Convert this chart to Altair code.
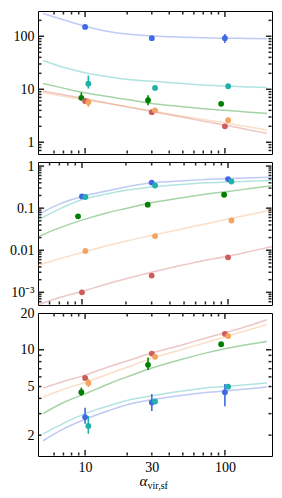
import altair as alt
import pandas as pd

# ---------------- data ----------------
names = ["blue", "green", "red", "teal", "orange"]
colors = ["#4169e1", "#008000", "#cd5c5c", "#20b2aa", "#f4a460"]
dodge = {"blue": 1.0, "teal": 1.055, "green": 0.94, "orange": 1.055, "red": 1.0}

x_grid = [5, 7, 10, 15, 20, 30, 50, 70, 100, 150, 200]
x_pts = [10, 30, 100]

# panel 1 (top)
p1_lines = {
    "blue": [270, 205, 155, 122, 110, 101, 96, 94, 92, 91, 90],
    "teal": [35, 26, 20.5, 17, 15.3, 14.2, 12.8, 12, 11.5, 11, 10.8],
    "green": [12.8, 10.5, 8.6, 7.2, 6.4, 5.4, 4.7, 4.3, 4.0, 3.7, 3.5],
    "orange": [8.6, 7.4, 6.3, 5.3, 4.7, 3.9, 3.1, 2.7, 2.3, 1.94, 1.71],
    "red": [9.3, 7.9, 6.6, 5.4, 4.65, 3.8, 2.95, 2.5, 2.1, 1.7, 1.47],
}
p1_pts = {
    "blue": [150, 92, 92], "teal": [12.7, 10.6, 11.4], "green": [6.9, 6.2, 5.3],
    "orange": [5.7, 4.0, 2.6], "red": [6.0, 3.7, 2.0],
}
p1_lo = {"blue": [138, None, 75], "teal": [10.3, None, None],
         "green": [6.2, 5.0, None], "orange": [4.65, None, None]}
p1_hi = {"blue": [165, None, 111], "teal": [18.2, None, None],
         "green": [8.7, 7.7, None], "orange": [6.7, None, None]}

# panel 2 (middle)
p2_lines = {
    "blue": [0.07, 0.125, 0.19, 0.26, 0.32, 0.40, 0.45, 0.48, 0.51, 0.53, 0.545],
    "teal": [0.053, 0.095, 0.16, 0.22, 0.265, 0.32, 0.37, 0.40, 0.42, 0.44, 0.455],
    "green": [0.021, 0.034, 0.052, 0.078, 0.098, 0.135, 0.18, 0.215, 0.25, 0.30, 0.34],
    "orange": [0.0044, 0.0063, 0.0088, 0.013, 0.0165, 0.0225, 0.033, 0.042, 0.055, 0.074, 0.092],
    "red": [0.0005, 0.00075, 0.00105, 0.0016, 0.0021, 0.003, 0.0045, 0.0058, 0.0072, 0.0098, 0.0122],
}
p2_pts = {
    "blue": [0.19, 0.406, 0.49], "teal": [0.184, 0.345, 0.43], "green": [0.064, 0.121, 0.208],
    "orange": [0.0096, 0.0217, 0.051], "red": [0.001, 0.0025, 0.0068],
}
p2_lo = {}
p2_hi = {}

# panel 3 (bottom)
p3_lines = {
    "blue": [1.8, 2.25, 2.7, 3.2, 3.55, 3.9, 4.25, 4.45, 4.6, 4.8, 4.95],
    "teal": [2.05, 2.5, 3.0, 3.5, 3.85, 4.2, 4.6, 4.85, 5.0, 5.2, 5.35],
    "green": [3.0, 3.7, 4.35, 5.3, 6.0, 7.1, 8.4, 9.3, 10.2, 11.1, 11.7],
    "orange": [4.1, 4.75, 5.4, 6.4, 7.2, 8.5, 10.1, 11.3, 12.8, 14.6, 16.1],
    "red": [4.85, 5.5, 6.2, 7.3, 8.1, 9.4, 11.0, 12.3, 13.8, 15.8, 17.6],
}
p3_pts = {
    "blue": [2.81, 3.70, 4.49], "teal": [2.38, 3.77, 4.99], "green": [4.49, 7.53, 11.1],
    "orange": [5.35, 8.75, 12.95], "red": [5.87, 9.3, 13.5],
}
p3_lo = {"blue": [2.48, 3.15, 3.45], "teal": [2.05, None, None],
         "green": [4.2, 6.82, None], "orange": [4.95, None, None]}
p3_hi = {"blue": [3.35, 4.35, 5.24], "teal": [2.87, None, None],
         "green": [4.9, 8.65, None], "orange": [5.8, None, None]}

# ticks
x_domain = [5, 200]
x_major = [10, 100]
x_minor = [6, 7, 8, 9, 20, 30, 40, 50, 60, 70, 80, 90]
x_label_vals = [10, 30, 100]
x_label_txt = ["10", "30", "100"]

y1_domain = [0.6, 300]
y1_major = [1, 10, 100]
y1_minor = [0.7, 0.8, 0.9, 2, 3, 4, 5, 6, 7, 8, 9, 20, 30, 40, 50, 60, 70, 80, 90, 200]
y1_label_vals = [1, 10, 100]
y1_label_txt = ["1", "10", "100"]

y2_domain = [0.0005, 1.25]
y2_major = [0.001, 0.01, 0.1, 1]
y2_minor = [0.0006, 0.0007, 0.0008, 0.0009,
            0.002, 0.003, 0.004, 0.005, 0.006, 0.007, 0.008, 0.009,
            0.02, 0.03, 0.04, 0.05, 0.06, 0.07, 0.08, 0.09,
            0.2, 0.3, 0.4, 0.5, 0.6, 0.7, 0.8, 0.9]
y2_label_vals = [0.001, 0.01, 0.1, 1]
y2_label_txt = ["10⁻³", "0.01", "0.1", "1"]

y3_domain = [1.35, 20]
y3_major = [10]
y3_minor = [2, 3, 4, 5, 6, 7, 8, 9]
y3_label_vals = [2, 5, 10, 20]
y3_label_txt = ["2", "5", "10", "20"]

# ---------------- style ----------------
FONT = "Liberation Serif"
FS = 14
W, H = 234, 143
MAJ, MIN = 6, 3.5
TICK_COLOR = "#262626"
TICK_W = 1.5


def label_expr(vals, txts):
    expr = "''"
    for v, t in zip(vals, txts):
        expr = f"abs(log(datum.value / {v})) < 0.001 ? '{t}' : " + expr
    return expr


def label_axis(orient, vals, txts, **kw):
    return alt.Axis(orient=orient, values=vals, labelExpr=label_expr(vals, txts),
                    ticks=False, tickSize=0, domain=False, grid=False,
                    labelFont=FONT, labelFontSize=FS, labelColor="black",
                    labelPadding=4, labelOverlap=False, labelFlush=False, **kw)


color = alt.Color("series:N", scale=alt.Scale(domain=names, range=colors), legend=None)


def lines_df(d):
    return pd.DataFrame([{"series": s, "x": x, "y": y}
                         for s in names for x, y in zip(x_grid, d[s])])


def pts_df(d):
    return pd.DataFrame([{"series": s, "x": x * dodge[s], "y": d[s][i]}
                         for s in names for i, x in enumerate(x_pts)])


def err_df(lo, hi):
    rows = [{"series": s, "x": x * dodge[s], "lo": lo[s][i], "hi": hi[s][i]}
            for s in names if s in lo for i, x in enumerate(x_pts) if lo[s][i] is not None]
    return pd.DataFrame(rows) if rows else None


def tick_df(ymaj, ymin):
    rows = []
    for v in ymaj:
        rows.append({"axis": "y", "v": v, "kind": "maj"})
    for v in ymin:
        rows.append({"axis": "y", "v": v, "kind": "min"})
    for v in x_major:
        rows.append({"axis": "x", "v": v, "kind": "maj"})
    for v in x_minor:
        rows.append({"axis": "x", "v": v, "kind": "min"})
    return pd.DataFrame(rows)


def tick_layers(xs, ys, ymaj, ymin):
    df = tick_df(ymaj, ymin)
    yt = alt.Chart(df).transform_filter("datum.axis == 'y'")
    xt = alt.Chart(df).transform_filter("datum.axis == 'x'")
    out = []
    for kind, L in (("maj", MAJ), ("min", MIN)):
        yy = yt.transform_filter(f"datum.kind == '{kind}'")
        xx = xt.transform_filter(f"datum.kind == '{kind}'")
        rule = dict(color=TICK_COLOR, strokeWidth=TICK_W)
        out.append(yy.mark_rule(**rule).encode(
            y=alt.Y("v:Q", scale=ys, axis=None), x=alt.value(0.5), x2=alt.value(L)))
        out.append(yy.mark_rule(**rule).encode(
            y=alt.Y("v:Q", scale=ys, axis=None), x=alt.value(W - L), x2=alt.value(W - 0.5)))
        out.append(xx.mark_rule(**rule).encode(
            x=alt.X("v:Q", scale=xs, axis=None), y=alt.value(H - L), y2=alt.value(H - 0.5)))
        out.append(xx.mark_rule(**rule).encode(
            x=alt.X("v:Q", scale=xs, axis=None), y=alt.value(0.5), y2=alt.value(L)))
    return out


def panel(lines, pts, lo, hi, ydom, ymaj, ymin, ylv, ylt, bottom=False):
    xs = alt.Scale(type="log", domain=x_domain, nice=False)
    ys = alt.Scale(type="log", domain=ydom, nice=False)
    if bottom:
        xlab = label_axis("bottom", x_label_vals, x_label_txt, title="α",
                          titleFont=FONT, titleFontSize=15, titleFontStyle="italic",
                          titleFontWeight="normal", titleColor="black",
                          titleAlign="left", titleBaseline="alphabetic",
                          titleX=101, titleY=29)
        sub = alt.Axis(orient="bottom", values=x_major, labels=False, ticks=False,
                       domain=False, grid=False, title="vir,sf",
                       titleFont=FONT, titleFontSize=10, titleFontWeight="normal",
                       titleColor="black", titleAlign="left",
                       titleBaseline="alphabetic", titleX=109, titleY=32)
    else:
        xlab = None
        sub = None

    l1 = alt.Chart(lines_df(lines)).mark_line(strokeWidth=1.5, opacity=0.35, clip=True,
                                              interpolate="monotone").encode(
        x=alt.X("x:Q", scale=xs, axis=xlab),
        y=alt.Y("y:Q", scale=ys, axis=label_axis("left", ylv, ylt, title=None)),
        color=color, detail="series:N")
    layers = [l1]
    edf = err_df(lo, hi)
    if edf is not None:
        layers.append(alt.Chart(edf).mark_bar(size=1.6).encode(
            x=alt.X("x:Q", scale=xs, axis=sub),
            y=alt.Y("lo:Q", scale=ys, axis=None), y2="hi:Q", color=color))
    layers.append(alt.Chart(pts_df(pts)).mark_circle(size=34, opacity=1).encode(
        x=alt.X("x:Q", scale=xs, axis=None),
        y=alt.Y("y:Q", scale=ys, axis=None), color=color))
    layers += tick_layers(xs, ys, ymaj, ymin)
    return alt.layer(*layers).resolve_axis(
        x="independent", y="independent").properties(width=W, height=H)


c1 = panel(p1_lines, p1_pts, p1_lo, p1_hi, y1_domain, y1_major, y1_minor,
           y1_label_vals, y1_label_txt)
c2 = panel(p2_lines, p2_pts, p2_lo, p2_hi, y2_domain, y2_major, y2_minor,
           y2_label_vals, y2_label_txt)
c3 = panel(p3_lines, p3_pts, p3_lo, p3_hi, y3_domain, y3_major, y3_minor,
           y3_label_vals, y3_label_txt, bottom=True)

chart = alt.vconcat(c1, c2, c3, spacing=8, bounds="flush").properties(
    padding={"left": 1, "top": 2, "right": 0, "bottom": 0}
).configure_view(stroke="black", strokeWidth=1)

chart.save("out.html", embed_options={"renderer": "svg", "actions": False})
